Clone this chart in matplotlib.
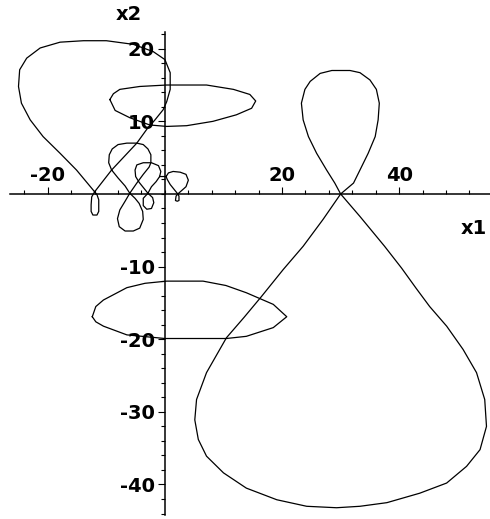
import matplotlib
matplotlib.use("Agg")
import matplotlib.pyplot as plt
import numpy as np
from matplotlib.ticker import FixedLocator

# big figure-eight on the right (crossing near x1=30)
eight_x = [30.0, 32.2, 33.3, 34.7, 35.9, 36.4, 36.6, 36.1, 35.0, 33.3, 31.6, 28.5,
           26.5, 24.8, 23.9, 23.3, 23.6, 24.5, 25.9, 27.6, 29.0, 30.0,
           27.0, 23.6, 20.2, 16.5, 13.5, 10.5, 7.1, 5.4, 5.1, 5.7, 7.1, 10.0,
           13.9, 19.1, 24.2, 29.3, 33.3, 37.9, 43.5, 48.1, 51.5, 53.8, 54.9,
           54.6, 53.2, 50.9, 48.1, 45.2, 42.9, 40.4, 37.5, 33.3, 30.0]
eight_y = [0.0, 1.5, 3.3, 5.6, 7.9, 10.2, 12.5, 14.4, 15.7, 16.7, 17.0, 17.0,
           16.6, 15.5, 14.4, 12.5, 10.2, 7.9, 5.6, 3.3, 1.5, 0.0,
           -3.5, -7.2, -10.4, -14.1, -17.0, -19.8, -24.6, -28.3, -31.1, -33.8, -36.1, -38.4,
           -40.5, -42.1, -43.0, -43.2, -43.0, -42.5, -41.2, -39.8, -37.5, -35.2, -32.0,
           -28.3, -24.6, -21.4, -18.2, -15.5, -13.0, -10.2, -7.2, -3.1, 0.0]

# teardrop loop upper left with small loop under its cusp
tear_x = [-12.0, -12.5, -12.6, -12.6, -12.3, -11.6, -11.3, -11.3, -11.6, -12.0,
          -15.1, -17.9, -20.8, -23.0, -24.5, -25.0, -24.8, -23.6, -21.3, -17.9,
          -13.9, -10.0, -5.4, -2.0, 0.0, 0.9, 0.9, 0.3, -0.3, -1.7, -3.1, -4.8,
          -9.1, -12.0]
tear_y = [0.3, -0.4, -1.5, -2.4, -2.9, -2.9, -2.4, -0.8, -0.1, 0.3,
          3.3, 5.6, 7.9, 10.2, 12.5, 14.8, 17.1, 18.7, 20.1, 20.9,
          21.1, 21.1, 20.6, 19.6, 18.5, 16.7, 14.4, 12.7, 11.6, 10.2, 8.9, 7.0,
          3.3, 0.3]

# upper flat ellipse
ell_up_x = [-9.4, -8.8, -7.7, -4.3, 0.3, 7.1, 11.7, 14.5, 15.5, 14.8, 12.2,
            8.2, 3.7, 0.3, -2.6, -6.0, -8.5, -9.4]
ell_up_y = [13.0, 13.8, 14.4, 14.8, 15.0, 15.0, 14.4, 13.7, 12.8, 11.8, 10.9,
            10.0, 9.4, 9.3, 9.5, 10.5, 11.5, 13.0]

# lower flat ellipse
ell_lo_x = [-12.4, -11.8, -10.5, -6.5, -3.4, 0.3, 6.5, 10.4, 13.9, 18.5, 20.8,
            18.5, 13.9, 10.5, 0.0, -6.5, -10.5, -11.8, -12.4]
ell_lo_y = [-16.9, -15.5, -14.6, -12.9, -12.3, -12.0, -12.0, -12.6, -13.6, -15.2, -16.9,
            -18.4, -19.6, -19.9, -19.9, -19.4, -18.2, -17.6, -16.9]

# small figure-eight left of the x2 axis
loop_a_x = [-9.1, -9.6, -9.5, -9.0, -8.0, -6.5, -4.8, -3.7, -2.9, -2.4, -2.4,
            -2.7, -3.7, -4.8, -6.0, -6.8, -7.7, -8.1, -7.8, -6.8, -5.4, -4.3,
            -3.7, -3.8, -4.4, -5.1, -6.0, -6.8, -8.0, -9.1]
loop_a_y = [3.3, 4.3, 5.4, 6.2, 6.8, 7.0, 7.0, 6.8, 6.2, 5.4, 4.3,
            3.7, 2.7, 1.5, 0.1, -1.0, -2.2, -3.4, -4.5, -5.1, -5.1, -4.7,
            -3.5, -2.4, -1.3, -0.6, 0.1, 1.1, 2.2, 3.3]

# second small figure-eight, joined to the teardrop at the axis
loop_b_x = [-0.9, -1.5, -2.3, -2.9, -3.7, -3.7, -3.1, -2.3, -1.9, -2.1, -2.9,
            -3.6, -4.4, -5.0, -5.1, -4.8, -3.7, -2.3, -1.1, -0.7, -0.9, 0.2]
loop_b_y = [2.4, 1.7, 1.0, 0.1, -0.6, -1.6, -2.1, -2.0, -1.2, -0.5, 0.1,
            0.8, 1.6, 2.4, 3.3, 4.0, 4.3, 4.3, 3.9, 3.1, 2.4, 2.4]

# small teardrop right of the x2 axis
loop_c_x = [0.2, 0.6, 1.4, 2.6, 3.6, 4.0, 3.6, 2.9, 2.2, 1.9, 1.8, 2.1, 2.4,
            2.4, 2.2, 1.6, 0.9, 0.4, 0.2]
loop_c_y = [2.4, 2.9, 3.1, 3.0, 2.7, 1.9, 1.0, 0.5, 0.0, -0.3, -0.9, -1.0, -0.9,
            -0.3, 0.0, 0.6, 1.3, 2.0, 2.4]

x_major = [-20, 20, 40]
x_labels = ["-20", "20", "40"]
y_major = [-40, -30, -20, -10, 10, 20]
y_labels = ["-40", "-30", "-20", "-10", "10", "20"]

fig = plt.figure(figsize=(4.9, 5.19), dpi=100)
ax = fig.add_axes([10 / 490, 4 / 519, 480 / 490, 483 / 519])

curves = [(eight_x, eight_y), (tear_x, tear_y), (ell_up_x, ell_up_y),
          (ell_lo_x, ell_lo_y), (loop_a_x, loop_a_y), (loop_b_x, loop_b_y),
          (loop_c_x, loop_c_y)]
for cx, cy in curves:
    ax.plot(cx, cy, color="black", lw=0.9)

ax.set_xlim(-26.45, 55.5)
ax.set_ylim(-44.2, 22.3)

# axes through the origin, maple style
ax.spines["left"].set_position(("data", 0))
ax.spines["top"].set_position(("data", 0))
ax.spines["right"].set_visible(False)
ax.spines["bottom"].set_visible(False)
for s in ["left", "top"]:
    ax.spines[s].set_linewidth(1.1)

ax.xaxis.set_ticks_position("top")
ax.yaxis.set_ticks_position("left")
ax.set_xticks(x_major, x_labels)
ax.set_yticks(y_major, y_labels)
ax.xaxis.set_minor_locator(FixedLocator(np.arange(-24, 56, 4)))
ax.yaxis.set_minor_locator(FixedLocator(np.arange(-44, 23, 2)))

ax.tick_params(which="major", direction="out", length=5, width=0.8)
ax.tick_params(which="minor", direction="out", length=3.2, width=0.8)
ax.tick_params(axis="x", which="major", pad=1.5)
ax.tick_params(axis="y", which="major", pad=2.2)
for lab in ax.get_xticklabels() + ax.get_yticklabels():
    lab.set_fontweight("bold")
    lab.set_fontsize(14)

fig.text(129 / 490, 1 - 15 / 519, "x2", fontsize=14, fontweight="bold",
         ha="center", va="center")
fig.text(474 / 490, 1 - 229 / 519, "x1", fontsize=14, fontweight="bold",
         ha="center", va="center")

fig.savefig("out.png", dpi=100, facecolor="white")
